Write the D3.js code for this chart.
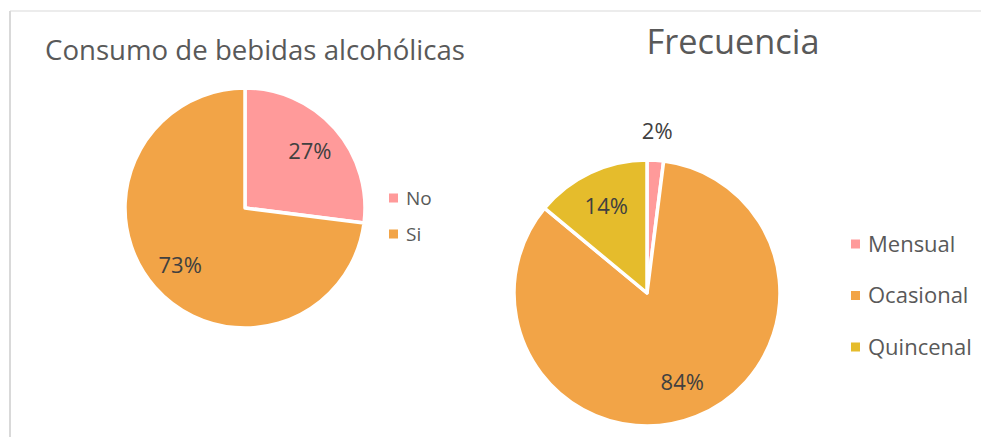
<!DOCTYPE html>
<html>
<head>
<meta charset="utf-8">
<script src="https://cdn.jsdelivr.net/npm/d3@7"></script>
<style>
  body { margin: 0; background: #fff; }
  text { font-family: "Open Sans", sans-serif; }
</style>
</head>
<body>
<svg id="chart" width="981" height="437"></svg>
<script>
// data
const consumoCats = ["No", "Si"];
const consumoVals = [27, 73];
const frecCats = ["Mensual", "Ocasional", "Quincenal"];
const frecVals = [2, 84, 14];

const colors = { "No": "#ff9a9a", "Si": "#f2a447", "Mensual": "#ff9a9a", "Ocasional": "#f2a447", "Quincenal": "#e5bc2c" };

const svg = d3.select("#chart");

// frame lines
svg.append("line").attr("x1", 10).attr("y1", 11).attr("x2", 10).attr("y2", 437)
    .attr("stroke", "#d9d9d9").attr("stroke-width", 2);
svg.append("line").attr("x1", 10).attr("y1", 11).attr("x2", 981).attr("y2", 11)
    .attr("stroke", "#d9d9d9").attr("stroke-width", 1);

// shrink/grow font so the text takes a given width
function fitWidth(sel, w) {
    const size = parseFloat(sel.attr("font-size"));
    const len = sel.node().getComputedTextLength();
    sel.attr("font-size", size * w / len);
}

function drawPie(cfg) {
    const g = svg.append("g").attr("transform", `translate(${cfg.cx},${cfg.cy})`);
    const pie = d3.pie().sort(null).value(d => d.v);
    const arcs = pie(cfg.cats.map((c, i) => ({ c, v: cfg.vals[i] })));
    const arc = d3.arc().innerRadius(0).outerRadius(cfg.r);

    g.selectAll("path").data(arcs).enter().append("path")
        .attr("d", arc)
        .attr("fill", d => colors[d.data.c])
        .attr("stroke", "#fff")
        .attr("stroke-width", 3.5)
        .attr("stroke-linejoin", "round");

    g.selectAll("text.lbl").data(arcs).enter().append("text")
        .attr("class", "lbl")
        .attr("transform", d => {
            const k = d.data.v < 5 ? cfg.outK : cfg.inK;
            const a = (d.startAngle + d.endAngle) / 2;
            return `translate(${Math.sin(a) * cfg.r * k},${-Math.cos(a) * cfg.r * k})`;
        })
        .attr("text-anchor", "middle")
        .attr("dy", "0.36em")
        .attr("font-size", 22)
        .attr("fill", "#404040")
        .text(d => d.data.v + "%");

    // legend
    const leg = svg.append("g");
    cfg.cats.forEach((c, i) => {
        const y = cfg.legY + i * cfg.legStep;
        leg.append("rect").attr("x", cfg.legX).attr("y", y - cfg.sq / 2)
            .attr("width", cfg.sq).attr("height", cfg.sq).attr("fill", colors[c]);
        leg.append("text").attr("x", cfg.legX + cfg.sq + 8).attr("y", y)
            .attr("dy", "0.35em")
            .attr("font-size", cfg.legFont).attr("fill", "#595959").text(c);
    });

    const t = svg.append("text").attr("x", cfg.titleX).attr("y", cfg.titleY)
        .attr("text-anchor", "middle").attr("font-size", 28).attr("fill", "#595959")
        .text(cfg.title);
    fitWidth(t, cfg.titleW);
}

drawPie({
    cats: consumoCats, vals: consumoVals, cx: 245, cy: 208, r: 120,
    inK: 0.72, outK: 1.2,
    legX: 389, legY: 198, legStep: 36, sq: 9, legFont: 19,
    title: "Consumo de bebidas alcohólicas", titleX: 255, titleY: 60, titleW: 420
});

drawPie({
    cats: frecCats, vals: frecVals, cx: 647, cy: 293, r: 133,
    inK: 0.72, outK: 1.22,
    legX: 851, legY: 244, legStep: 51.5, sq: 9, legFont: 22,
    title: "Frecuencia", titleX: 733, titleY: 54, titleW: 173
});
</script>
</body>
</html>
